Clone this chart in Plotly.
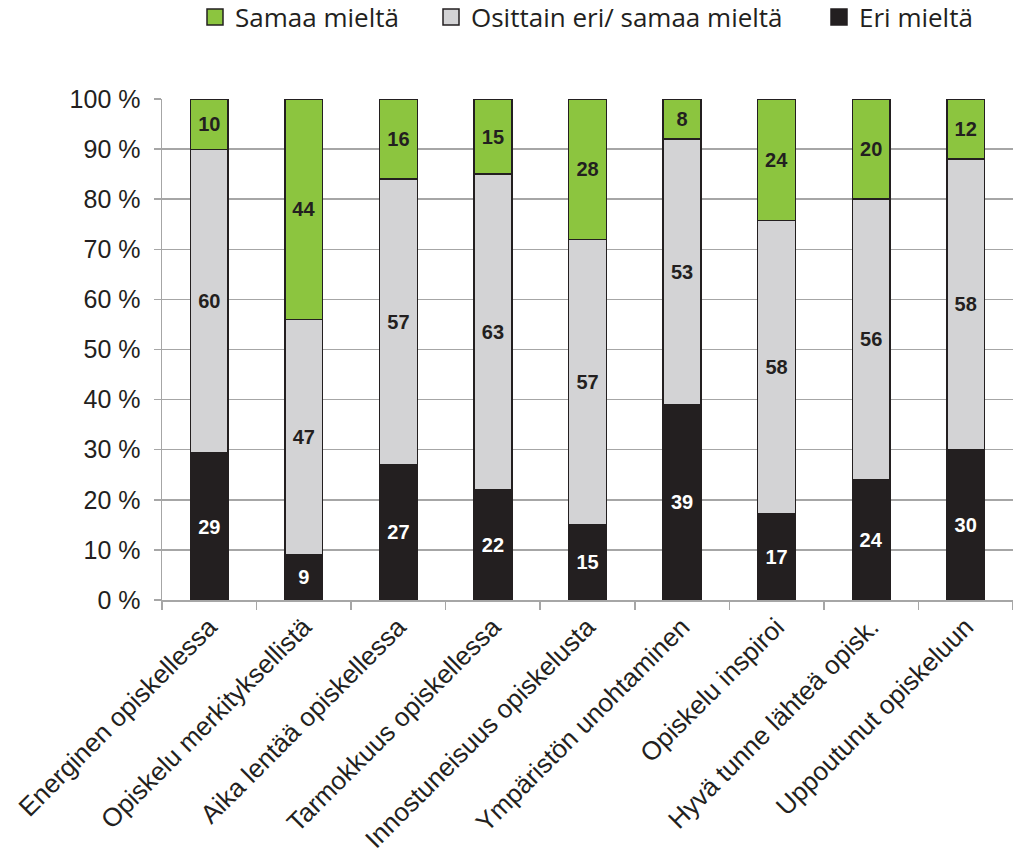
import plotly.graph_objects as go

categories = ["Energinen opiskellessa", "Opiskelu merkityksellistä", "Aika lentää opiskellessa",
              "Tarmokkuus opiskellessa", "Innostuneisuus opiskelusta", "Ympäristön unohtaminen",
              "Opiskelu inspiroi", "Hyvä tunne lähteä opisk.", "Uppoutunut opiskeluun"]
eri = [29, 9, 27, 22, 15, 39, 17, 24, 30]
osittain = [60, 47, 57, 63, 57, 53, 58, 56, 58]
samaa = [10, 44, 16, 15, 28, 8, 24, 20, 12]
y_ticks = [0, 10, 20, 30, 40, 50, 60, 70, 80, 90, 100]
y_ticklabels = [f"{v} %" for v in y_ticks]

border = "#231F20"
series = [
    ("Eri mieltä", eri, "#231F20", "white", "legend3"),
    ("Osittain eri/ samaa mieltä", osittain, "#D3D3D5", "#231F20", "legend2"),
    ("Samaa mieltä", samaa, "#8CC53F", "#231F20", "legend"),
]

fig = go.Figure()
for name, vals, color, tcolor, lg in series:
    fig.add_trace(go.Bar(
        x=categories, y=vals, name=name, showlegend=False,
        marker=dict(color=color, line=dict(color=border, width=1.5)),
        text=[str(v) for v in vals], textposition="inside", insidetextanchor="middle",
        textangle=0,
        textfont=dict(family="Liberation Sans, Arial", size=20, color=tcolor, weight="bold"),
        width=0.4,
    ))
    # legend-only entry with a larger square swatch
    fig.add_trace(go.Scatter(
        x=[None], y=[None], name=name, mode="markers", legend=lg, showlegend=True,
        marker=dict(symbol="square", size=16, color=color, line=dict(color=border, width=1.5)),
    ))

leg_common = dict(orientation="h", xref="container", yref="container", xanchor="left",
                  yanchor="middle", y=1 - 17 / 859, bgcolor="rgba(0,0,0,0)",
                  font=dict(family="Open Sans", size=26, color="#231F20"),
                  itemwidth=30, itemclick=False, itemdoubleclick=False)

fig.update_layout(
    barmode="stack", barnorm="percent",
    width=1013, height=859,
    margin=dict(l=162, r=0, t=99, b=259, autoexpand=False),
    plot_bgcolor="white", paper_bgcolor="white",
    font=dict(family="Liberation Sans, Arial", size=22, color="#231F20"),
    uniformtext=dict(minsize=10, mode="show"),
    legend=dict(x=195 / 1013, **leg_common),
    legend2=dict(x=431 / 1013, **leg_common),
    legend3=dict(x=819 / 1013, **leg_common),
)
fig.update_yaxes(range=[0, 100], tickvals=y_ticks, ticktext=y_ticklabels, automargin=False,
                 showgrid=True, gridcolor="#A6A6A6", gridwidth=1.5,
                 showline=True, linecolor="#A6A6A6", linewidth=1.5,
                 ticks="outside", ticklen=7, tickcolor="#A6A6A6", tickwidth=1.5,
                 tickfont=dict(size=25), zeroline=False, ticklabelstandoff=8)
fig.update_xaxes(showgrid=False, showline=True, linecolor="#A6A6A6", linewidth=1.5,
                 automargin=False,
                 ticks="outside", ticklen=8, tickcolor="#A6A6A6", tickwidth=1.5,
                 tickson="boundaries", tickangle=-45, tickfont=dict(size=26))

fig.write_html("out.html", config={"displayModeBar": False, "staticPlot": True},
               post_script="document.body.style.margin='0';")
